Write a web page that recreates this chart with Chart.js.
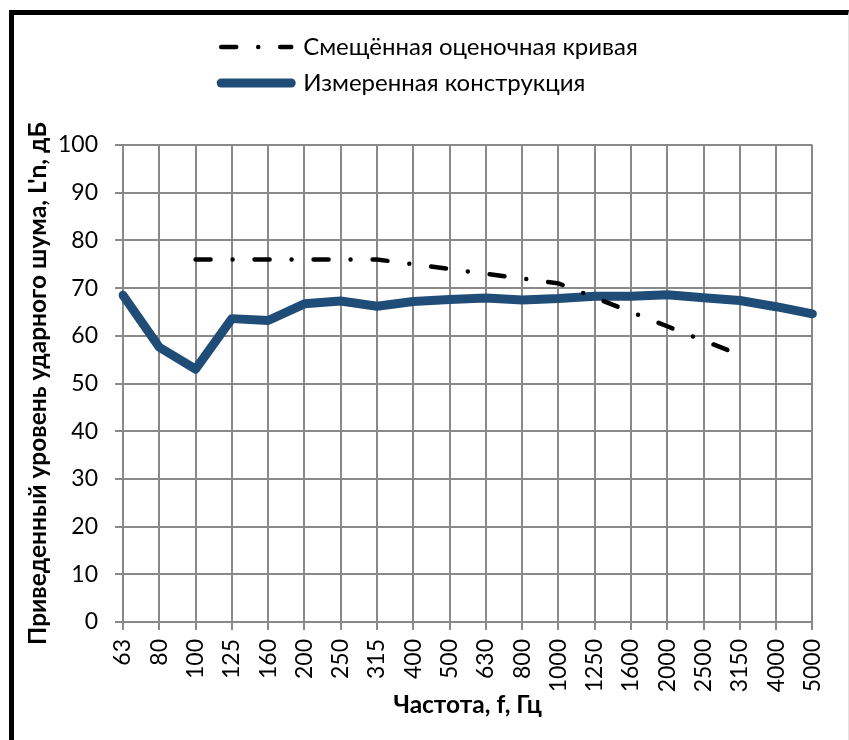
<!DOCTYPE html>
<html>
<head>
<meta charset="utf-8">
<script src="https://cdn.jsdelivr.net/npm/chart.js@4/dist/chart.umd.min.js"></script>
<style>
    html, body { margin: 0; padding: 0; background: #fff; overflow: hidden; }
    .wrap { position: absolute; left: 0; top: 0; width: 849px; height: 740px; }
    .frame {
        position: absolute; left: 9px; top: 10px; width: 840px; height: 760px;
        box-sizing: border-box;
        border-left: 5px solid #000; border-top: 5px solid #000; border-right: 1px solid #e2e2e2;
        pointer-events: none;
    }
</style>
</head>
<body>
<div class="wrap"><canvas id="myChart"></canvas></div>
<div class="frame"></div>
<script>
const freqs = ['63', '80', '100', '125', '160', '200', '250', '315', '400', '500',
    '630', '800', '1000', '1250', '1600', '2000', '2500', '3150', '4000', '5000'];
// смещённая оценочная кривая (только 100..3150 Гц)
const refCurve = [null, null, 76, 76, 76, 76, 76, 76, 75, 74,
    73, 72, 71, 68, 65, 62, 59, 56, null, null];
const measured = [68.5, 57.6, 53, 63.6, 63.2, 66.7, 67.3, 66.2, 67.2, 67.6,
    67.9, 67.5, 67.8, 68.3, 68.3, 68.6, 68, 67.4, 66.1, 64.6];
const yTicks = [0, 100, 10];

const font = 'Lato';
const gridColor = '#898989';

// legend: one entry per row, extra space under it, rows starting at the same x
const legendRows = {
    id: 'legendRows',
    beforeLayout(chart) {
        const lg = chart.legend;
        if (!lg || lg._wrapped) return;
        const fit = lg.fit;
        lg.fit = function () {
            const full = this.maxWidth;
            this.maxWidth = full * 0.7;
            fit.call(this);
            this.maxWidth = full;
            this.width = full;
            this.height += 40;
        };
        lg._wrapped = true;
    },
    afterUpdate(chart) {
        const lg = chart.legend;
        if (!lg || !lg.lineWidths) return;
        const w = Math.max(...lg.lineWidths);
        lg.lineWidths = lg.lineWidths.map(() => w);
        // block sits a bit right of the canvas centre
        lg.left += 15;
        lg.right += 15;
    }
};

const data = {
    labels: freqs,
    datasets: [{
        label: 'Смещённая оценочная кривая',
        data: refCurve,
        borderColor: '#000',
        backgroundColor: '#000',
        borderWidth: 4.5,
        borderDash: [15, 22, 0, 22],
        borderCapStyle: 'round',
        pointRadius: 0,
        fill: false,
        tension: 0
    }, {
        label: 'Измеренная конструкция',
        data: measured,
        borderColor: '#1f4d78',
        backgroundColor: '#1f4d78',
        borderWidth: 9,
        borderCapStyle: 'round',
        borderJoinStyle: 'round',
        pointRadius: 0,
        fill: false,
        tension: 0
    }]
};

const myChart = new Chart(document.getElementById('myChart').getContext('2d'), {
    type: 'line',
    data: data,
    plugins: [legendRows],
    options: {
        responsive: true,
        maintainAspectRatio: false,
        animation: false,
        layout: {
            padding: { left: 14, right: 34, top: 23, bottom: 20 }
        },
        plugins: {
            tooltip: { enabled: false },
            legend: {
                position: 'top',
                align: 'center',
                labels: {
                    usePointStyle: true,
                    pointStyle: 'line',
                    pointStyleWidth: 70,
                    padding: 12,
                    color: '#000',
                    font: { family: font, size: 24 },
                    generateLabels: (chart) => {
                        const items = Chart.defaults.plugins.legend.labels.generateLabels(chart);
                        items.forEach((item) => {
                            const ds = chart.data.datasets[item.datasetIndex];
                            item.lineDash = ds.borderDash || [];
                            item.lineCap = ds.borderCapStyle;
                            item.lineWidth = ds.borderWidth;
                            item.strokeStyle = ds.borderColor;
                        });
                        return items;
                    }
                }
            }
        },
        scales: {
            x: {
                offset: false,
                afterFit: (axis) => { axis.height = 98; },
                grid: { color: gridColor, lineWidth: 2, tickLength: 8, tickColor: gridColor },
                border: { color: gridColor, width: 2 },
                ticks: {
                    autoSkip: false,
                    minRotation: 90,
                    maxRotation: 90,
                    padding: 9,
                    color: '#000',
                    font: { family: font, size: 23 }
                },
                title: {
                    display: true,
                    text: 'Частота, f, Гц',
                    color: '#000',
                    padding: { top: 4, bottom: 0 },
                    font: { family: font, size: 24.5, weight: 'bold' }
                }
            },
            y: {
                min: yTicks[0],
                max: yTicks[1],
                afterFit: (axis) => { axis.width = 109; },
                grid: { color: gridColor, lineWidth: 2, tickLength: 8, tickColor: gridColor },
                border: { color: gridColor, width: 2 },
                ticks: {
                    stepSize: yTicks[2],
                    padding: 17,
                    color: '#000',
                    font: { family: font, size: 23 }
                },
                title: {
                    display: true,
                    text: "Приведенный уровень ударного шума, L'n, дБ",
                    color: '#000',
                    padding: { top: 9, bottom: 4 },
                    font: { family: font, size: 24.5, weight: 'bold' }
                }
            }
        }
    }
});
</script>
</body>
</html>
